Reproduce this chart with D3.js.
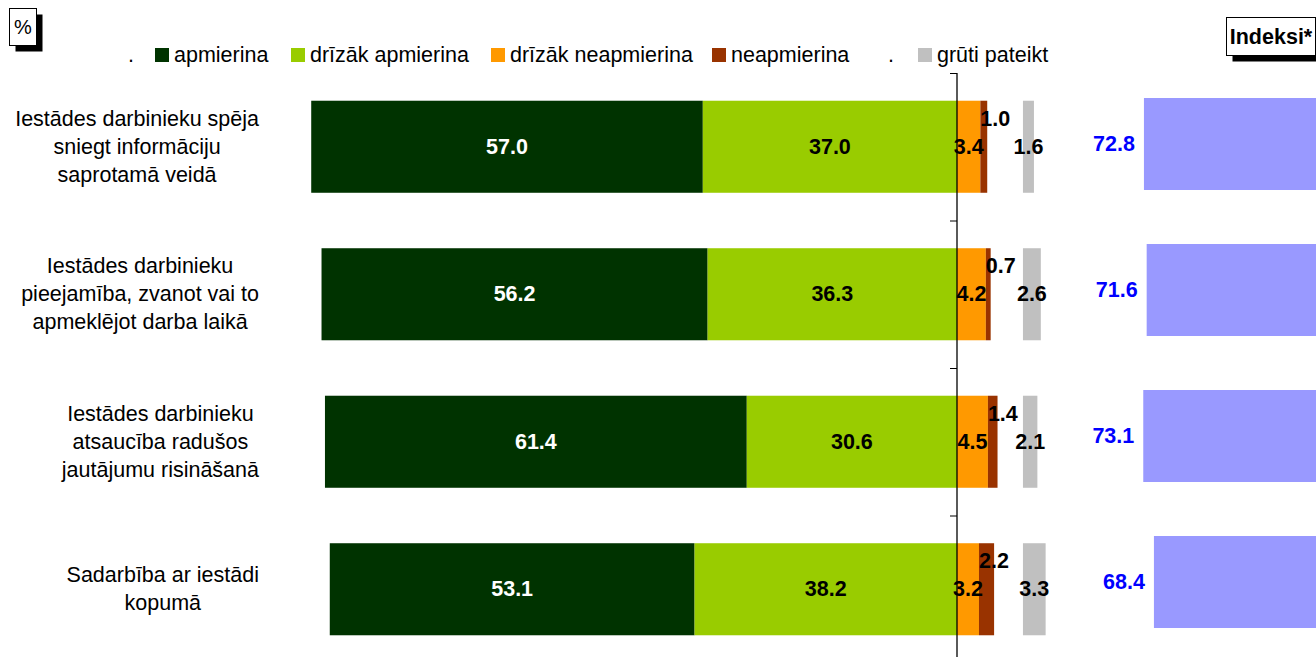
<!DOCTYPE html>
<html>
<head>
<meta charset="utf-8">
<script src="https://cdn.jsdelivr.net/npm/d3@7"></script>
<style>
	body { margin: 0; background: #fff; }
	svg { display: block; font-family: "Liberation Sans", Arial, sans-serif; }
</style>
</head>
<body>
<svg id="chart" width="1316" height="657"></svg>
<script>
// data
const categories = [
	["Iestādes darbinieku spēja", "sniegt informāciju", "saprotamā veidā"],
	["Iestādes darbinieku", "pieejamība, zvanot vai to", "apmeklējot darba laikā"],
	["Iestādes darbinieku", "atsaucība radušos", "jautājumu risināšanā"],
	["Sadarbība ar iestādi", "kopumā"]
];
const apmierina = [57.0, 56.2, 61.4, 53.1];
const drizakApmierina = [37.0, 36.3, 30.6, 38.2];
const drizakNeapmierina = [3.4, 4.2, 4.5, 3.2];
const neapmierina = [1.0, 0.7, 1.4, 2.2];
const grutiPateikt = [1.6, 2.6, 2.1, 3.3];
const indeksi = [72.8, 71.6, 73.1, 68.4];
const legendLabels = ["apmierina", "drīzāk apmierina", "drīzāk neapmierina", "neapmierina", "grūti pateikt"];
const colors = ["#003300", "#99cc00", "#ff9900", "#993300", "#c0c0c0"];

const width = 1316, height = 657;
const fs = "21.5px";
const greyGap = 9.6; // where the "grūti pateikt" bars start, in % units

let svg = d3.select("#chart");

let x = d3.scaleLinear()
	.domain([-100, 0])
	.range([270, 957]);
let y = d3.scaleBand()
	.domain(d3.range(categories.length))
	.range([73, 663])
	.paddingInner(0.376)
	.paddingOuter(0.188);
let yi = d3.scaleBand()
	.domain(d3.range(categories.length))
	.range([71, 655])
	.paddingInner(0.37)
	.paddingOuter(0.185);
let xi = d3.scaleLinear()
	.domain([60, 80])
	.range([1173, 1127.6]);

// stacked rows
let rows = categories.map((c, i) => {
	let a = apmierina[i], b = drizakApmierina[i], n1 = drizakNeapmierina[i], n2 = neapmierina[i];
	return [
		{i, x0: -(a + b), x1: -b, v: a, k: 0},
		{i, x0: -b, x1: 0, v: b, k: 1},
		{i, x0: 0, x1: n1, v: n1, k: 2},
		{i, x0: n1, x1: n1 + n2, v: n2, k: 3},
		{i, x0: greyGap, x1: greyGap + grutiPateikt[i], v: grutiPateikt[i], k: 4}
	];
}).flat();

svg.append("g")
	.selectAll("rect")
	.data(rows)
	.join("rect")
	.attr("x", d => x(d.x0))
	.attr("width", d => x(d.x1) - x(d.x0))
	.attr("y", d => y(d.i))
	.attr("height", y.bandwidth())
	.attr("fill", d => colors[d.k]);

// value labels
svg.append("g")
	.attr("font-size", fs)
	.attr("font-weight", "bold")
	.selectAll("text")
	.data(rows)
	.join("text")
	.attr("x", d => d.k == 3 ? x(d.x0) : x((d.x0 + d.x1) / 2))
	.attr("y", d => y(d.i) + y.bandwidth() / 2 + (d.k == 3 ? -28 : 0))
	.attr("text-anchor", d => d.k == 3 ? "start" : "middle")
	.attr("dominant-baseline", "central")
	.attr("fill", d => d.k == 0 ? "#fff" : "#000")
	.text(d => d.v.toFixed(1));

// category axis
let yl = d3.scaleLinear().domain([0, 4]).range([73, 663]);
svg.append("g")
	.attr("transform", `translate(${x(0)},0)`)
	.call(d3.axisLeft(yl).ticks(4).tickSize(7).tickFormat(""))
	.call(g => g.selectAll("line").attr("stroke", "#000"))
	.call(g => g.select(".domain").attr("stroke", "#000").attr("stroke-width", 1.3).attr("d", `M0,73V${height}`));

// category labels
let lab = svg.append("g")
	.attr("font-size", fs)
	.attr("fill", "#000");
categories.forEach((lines, i) => {
	let g = lab.append("g");
	let cy = y(i) + y.bandwidth() / 2;
	let t = g.selectAll("text")
		.data(lines)
		.join("text")
		.attr("y", (d, j) => cy + (j - (lines.length - 1) / 2) * 28)
		.attr("dominant-baseline", "central")
		.attr("text-anchor", "middle")
		.text(d => d);
	let w = d3.max(t.nodes(), n => n.getComputedTextLength());
	t.attr("x", 259 - w / 2);
});

// index bars
svg.append("g")
	.selectAll("rect")
	.data(indeksi)
	.join("rect")
	.attr("x", d => xi(d))
	.attr("width", d => width - xi(d))
	.attr("y", (d, i) => yi(i))
	.attr("height", yi.bandwidth())
	.attr("fill", "#9999ff");
svg.append("g")
	.attr("font-size", fs)
	.attr("font-weight", "bold")
	.attr("fill", "#0000ff")
	.selectAll("text")
	.data(indeksi)
	.join("text")
	.attr("x", d => xi(d) - 9)
	.attr("y", (d, i) => yi(i) + yi.bandwidth() / 2)
	.attr("text-anchor", "end")
	.attr("dominant-baseline", "central")
	.text(d => d.toFixed(1));

// legend
let legendX = [155, 291, 491, 712, 918];
let leg = svg.append("g").attr("font-size", fs);
leg.selectAll("rect")
	.data(legendLabels)
	.join("rect")
	.attr("x", (d, i) => legendX[i])
	.attr("y", 48)
	.attr("width", 14)
	.attr("height", 14)
	.attr("fill", (d, i) => colors[i]);
leg.selectAll("text.l")
	.data(legendLabels)
	.join("text")
	.attr("class", "l")
	.attr("x", (d, i) => legendX[i] + 19)
	.attr("y", 55)
	.attr("dominant-baseline", "central")
	.text(d => d);
leg.selectAll("text.dot")
	.data([128, 888])
	.join("text")
	.attr("class", "dot")
	.attr("x", d => d)
	.attr("y", 55)
	.attr("dominant-baseline", "central")
	.text(".");

// boxed titles with shadow
function box(x0, y0, w, h, label, bold) {
	let g = svg.append("g");
	g.append("rect").attr("x", x0 + 6).attr("y", y0 + 6).attr("width", w).attr("height", h).attr("fill", "#000");
	g.append("rect").attr("x", x0).attr("y", y0).attr("width", w).attr("height", h)
		.attr("fill", "#fff").attr("stroke", "#000").attr("stroke-width", 1);
	g.append("text")
		.attr("x", x0 + w / 2)
		.attr("y", y0 + h / 2)
		.attr("text-anchor", "middle")
		.attr("dominant-baseline", "central")
		.attr("font-size", bold ? fs : "20px")
		.attr("font-weight", bold ? "bold" : "normal")
		.text(label);
}
box(9.5, 8.5, 27, 37, "%", false);
box(1226.5, 17.5, 89, 38, "Indeksi*", true);
</script>
</body>
</html>
